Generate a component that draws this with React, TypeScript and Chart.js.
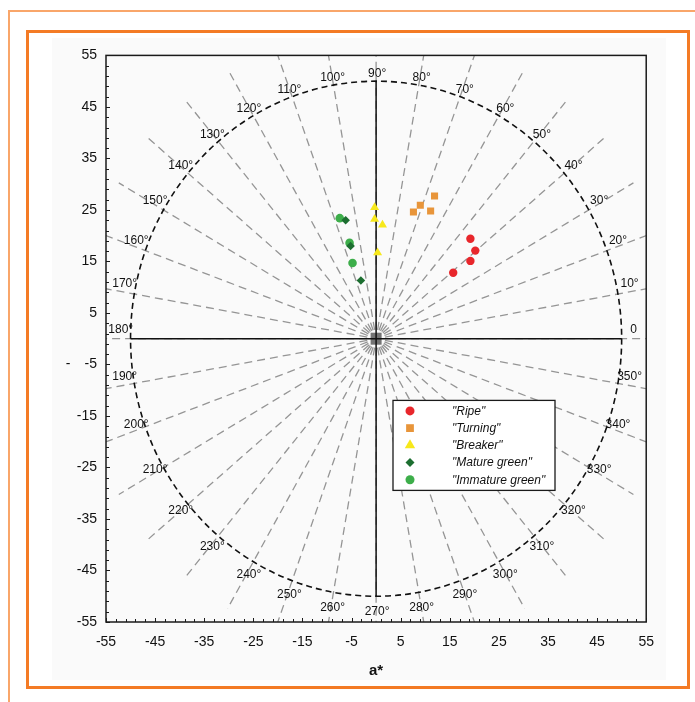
import React, { useEffect, useRef } from "react";
import { Chart, registerables } from "chart.js";

Chart.register(...registerables);

// ---------- data ----------
const seriesLabels = ['"Ripe"', '"Turning"', '"Breaker"', '"Mature green"', '"Immature green"'];
const seriesColors = ["#E8262B", "#E8953A", "#F7E81A", "#1C6E30", "#3DAE4A"];
const seriesStyles = ["circle", "rect", "triangle", "rectRot", "circle"];

const ripeA = [19.2, 20.2, 19.2, 15.7];
const ripeB = [19.4, 17.1, 15.1, 12.8];
const turningA = [11.9, 9.0, 11.1, 7.6];
const turningB = [27.7, 25.9, 24.8, 24.6];
const breakerA = [-0.3, -0.3, 1.3, 0.3];
const breakerB = [25.5, 23.2, 22.1, 16.7];
const matureA = [-6.2, -5.2, -3.1];
const matureB = [23.0, 18.0, 11.3];
const immatureA = [-7.4, -5.4, -4.8];
const immatureB = [23.4, 18.6, 14.7];

const tickValues = [-55, -45, -35, -25, -15, -5, 5, 15, 25, 35, 45, 55];
const minorTickValues = [
  -55, -53, -51, -49, -47, -45, -43, -41, -39, -37, -35, -33, -31, -29, -27, -25, -23, -21, -19, -17,
  -15, -13, -11, -9, -7, -5, -3, -1, 1, 3, 5, 7, 9, 11, 13, 15, 17, 19, 21, 23, 25, 27, 29, 31, 33, 35,
  37, 39, 41, 43, 45, 47, 49, 51, 53, 55,
];
const hueAngles = [0, 10, 20, 30, 40, 50, 60, 70, 80, 90, 100, 110, 120, 130, 140, 150, 160, 170, 180,
  190, 200, 210, 220, 230, 240, 250, 260, 270, 280, 290, 300, 310, 320, 330, 340, 350];
const hueLabels = ["0", "10°", "20°", "30°", "40°", "50°", "60°", "70°", "80°", "90°", "100°", "110°",
  "120°", "130°", "140°", "150°", "160°", "170°", "180°", "190°", "200°", "210°", "220°", "230°", "240°",
  "250°", "260°", "270°", "280°", "290°", "300°", "310°", "320°", "330°", "340°", "350°"];
const circleRadius = 50;
const rayLength = 60.5;
const labelRadius = 52.2;
const xTitle = "a*";
const yTitle = "-";

const toPoints = (a: number[], b: number[]) => a.map((v, i) => ({ x: v, y: b[i] }));
const seriesData = [
  toPoints(ripeA, ripeB),
  toPoints(turningA, turningB),
  toPoints(breakerA, breakerB),
  toPoints(matureA, matureB),
  toPoints(immatureA, immatureB),
];
const seriesRadius = [4.2, 5, 5.2, 4.3, 4.3];

const FONT = "'Liberation Sans', Arial, Helvetica, sans-serif";

function drawMarker(ctx: CanvasRenderingContext2D, style: string, x: number, y: number, r: number) {
  ctx.beginPath();
  if (style === "circle") {
    ctx.arc(x, y, r, 0, Math.PI * 2);
  } else if (style === "rect") {
    const s = r * Math.SQRT1_2;
    ctx.rect(x - s, y - s, 2 * s, 2 * s);
  } else if (style === "triangle") {
    ctx.moveTo(x, y - r);
    ctx.lineTo(x + r * 0.866, y + r * 0.5);
    ctx.lineTo(x - r * 0.866, y + r * 0.5);
    ctx.closePath();
  } else {
    ctx.moveTo(x, y - r);
    ctx.lineTo(x + r, y);
    ctx.lineTo(x, y + r);
    ctx.lineTo(x - r, y);
    ctx.closePath();
  }
  ctx.fill();
}

const overlayPlugin = {
  id: "overlay",
  beforeDatasetsDraw(chart: any) {
    const { ctx, chartArea, scales } = chart;
    const xs = scales.x;
    const ys = scales.y;
    const cx = xs.getPixelForValue(0);
    const cy = ys.getPixelForValue(0);
    ctx.save();
    ctx.beginPath();
    ctx.rect(chartArea.left, chartArea.top, chartArea.right - chartArea.left, chartArea.bottom - chartArea.top);
    ctx.clip();

    // hue rays
    ctx.strokeStyle = "#959595";
    ctx.lineWidth = 1.3;
    ctx.setLineDash([8, 5]);
    ctx.lineDashOffset = 4;
    for (const ang of hueAngles) {
      const t = (ang * Math.PI) / 180;
      ctx.beginPath();
      ctx.moveTo(cx, cy);
      ctx.lineTo(xs.getPixelForValue(rayLength * Math.cos(t)), ys.getPixelForValue(rayLength * Math.sin(t)));
      ctx.stroke();
    }
    ctx.lineDashOffset = 0;

    // central square
    ctx.setLineDash([]);
    ctx.fillStyle = "#747474";
    ctx.fillRect(cx - 5.5, cy - 6, 11, 12);

    // solid cross
    ctx.strokeStyle = "#111";
    ctx.lineWidth = 1.5;
    ctx.beginPath();
    ctx.moveTo(xs.getPixelForValue(-circleRadius), cy);
    ctx.lineTo(xs.getPixelForValue(circleRadius), cy);
    ctx.moveTo(cx, ys.getPixelForValue(circleRadius));
    ctx.lineTo(cx, ys.getPixelForValue(-circleRadius));
    ctx.stroke();

    // chroma circle
    ctx.setLineDash([6, 4]);
    ctx.lineWidth = 1.6;
    ctx.beginPath();
    ctx.ellipse(cx, cy, xs.getPixelForValue(circleRadius) - cx, cy - ys.getPixelForValue(circleRadius), 0, 0, Math.PI * 2);
    ctx.stroke();
    ctx.setLineDash([]);

    // angle labels
    ctx.fillStyle = "#111";
    ctx.font = `12px ${FONT}`;
    ctx.textAlign = "center";
    ctx.textBaseline = "middle";
    hueAngles.forEach((ang, i) => {
      const t = (ang * Math.PI) / 180;
      const c = Math.cos(t);
      const px = xs.getPixelForValue(labelRadius * c) + 1;
      const py = ys.getPixelForValue(labelRadius * Math.sin(t)) + 4 - 13 * Math.pow(c, 4);
      ctx.fillText(hueLabels[i], px, py);
    });
    ctx.restore();
  },
  afterDatasetsDraw(chart: any) {
    const { ctx, chartArea, scales } = chart;
    const xs = scales.x;
    const ys = scales.y;
    ctx.save();
    // frame
    ctx.strokeStyle = "#1a1a1a";
    ctx.lineWidth = 1.5;
    ctx.strokeRect(chartArea.left, chartArea.top, chartArea.right - chartArea.left, chartArea.bottom - chartArea.top);
    // minor ticks on left and bottom, pointing inward
    ctx.lineWidth = 1;
    ctx.beginPath();
    for (const v of minorTickValues) {
      const major = tickValues.includes(v);
      const len = major ? 4 : 3;
      const px = Math.round(xs.getPixelForValue(v)) + 0.5;
      ctx.moveTo(px, chartArea.bottom);
      ctx.lineTo(px, chartArea.bottom - len);
      const py = Math.round(ys.getPixelForValue(v)) + 0.5;
      ctx.moveTo(chartArea.left, py);
      ctx.lineTo(chartArea.left + len, py);
    }
    ctx.stroke();

    // legend box
    const lx = chartArea.left + 287;
    const ly = chartArea.top + 345;
    const lw = 162;
    const lh = 90;
    ctx.fillStyle = "#ffffff";
    ctx.fillRect(lx, ly, lw, lh);
    ctx.strokeStyle = "#1a1a1a";
    ctx.lineWidth = 1.3;
    ctx.strokeRect(lx, ly, lw, lh);
    chart.data.datasets.forEach((ds: any, i: number) => {
      const rowY = ly + 10.5 + i * 17.2;
      ctx.fillStyle = ds.backgroundColor;
      const st = seriesStyles[i];
      drawMarker(ctx, st, lx + 17, rowY, st === "triangle" ? 6 : st === "rect" ? 5.5 : 4.5);
      ctx.fillStyle = "#111";
      ctx.font = `italic 12px ${FONT}`;
      ctx.textAlign = "left";
      ctx.textBaseline = "middle";
      ctx.fillText(ds.label, lx + 59, rowY + 0.5);
    });

    // axis titles
    ctx.fillStyle = "#111";
    ctx.font = `bold 15px ${FONT}`;
    ctx.textAlign = "center";
    ctx.textBaseline = "middle";
    ctx.fillText(xTitle, xs.getPixelForValue(0), chartArea.bottom + 49);
    ctx.font = `14px ${FONT}`;
    ctx.fillText(yTitle, chartArea.left - 38, ys.getPixelForValue(-5));
    ctx.restore();
  },
};

export default function App() {
  const canvasRef = useRef<HTMLCanvasElement | null>(null);

  useEffect(() => {
    if (!canvasRef.current) return;
    const chart = new Chart(canvasRef.current, {
      type: "scatter",
      data: {
        datasets: seriesData.map((pts, i) => ({
          label: seriesLabels[i],
          data: pts,
          backgroundColor: seriesColors[i],
          borderColor: seriesColors[i],
          borderWidth: 0,
          pointStyle: seriesStyles[i] as any,
          pointRadius: seriesRadius[i],
          pointHoverRadius: seriesRadius[i],
        })),
      },
      options: {
        animation: false,
        responsive: false,
        maintainAspectRatio: false,
        devicePixelRatio: 1,
        layout: { padding: { top: 14, right: 19, left: 0, bottom: 0 } },
        plugins: {
          legend: { display: false },
          tooltip: { enabled: false },
          title: { display: false },
        },
        scales: {
          x: {
            type: "linear",
            min: -55,
            max: 55,
            afterBuildTicks: (scale: any) => {
              scale.ticks = tickValues.map((v) => ({ value: v }));
            },
            afterFit: (scale: any) => {
              scale.height = 58;
            },
            grid: { display: false, drawTicks: false },
            border: { display: false },
            ticks: {
              autoSkip: false,
              maxRotation: 0,
              padding: 12,
              color: "#111",
              font: { size: 14, family: FONT },
              callback: (v: any) => String(v),
            },
          },
          y: {
            type: "linear",
            min: -55,
            max: 55,
            afterBuildTicks: (scale: any) => {
              scale.ticks = tickValues.map((v) => ({ value: v }));
            },
            afterFit: (scale: any) => {
              scale.width = 54;
            },
            grid: { display: false, drawTicks: false },
            border: { display: false },
            ticks: {
              autoSkip: false,
              padding: 9,
              color: "#111",
              font: { size: 14, family: FONT },
              callback: (v: any) => String(v),
            },
          },
        },
      },
      plugins: [overlayPlugin],
    });
    return () => chart.destroy();
  }, []);

  return (
    <div style={{ position: "absolute", left: 0, top: 0, width: 695, height: 702, background: "#ffffff", overflow: "hidden" }}>
      <div style={{ position: "absolute", left: 8, top: 10, width: 687, height: 2, background: "#F9A66A" }} />
      <div style={{ position: "absolute", left: 8, top: 10, width: 2, height: 692, background: "#F9A66A" }} />
      <div
        style={{
          position: "absolute",
          left: 26,
          top: 30,
          width: 664,
          height: 659,
          border: "3px solid #F47B25",
          boxSizing: "border-box",
        }}
      />
      <div style={{ position: "absolute", left: 52, top: 38, width: 614, height: 642, background: "#FAFAFA" }}>
        <canvas ref={canvasRef} width={614} height={642} style={{ display: "block", width: 614, height: 642 }} />
      </div>
    </div>
  );
}
